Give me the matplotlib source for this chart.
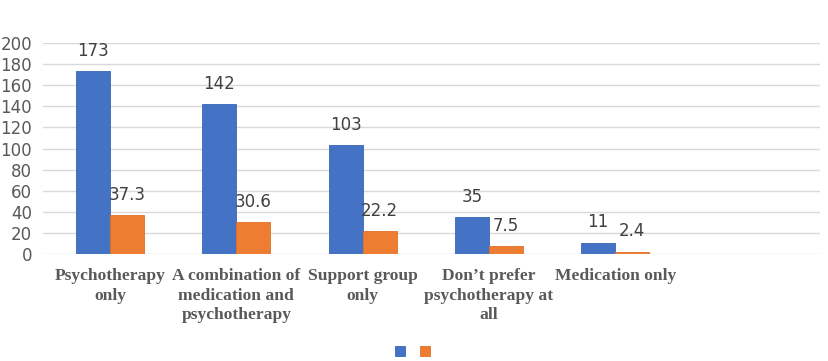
import matplotlib.pyplot as plt
import numpy as np

categories = ["Psychotherapy\nonly",
              "A combination of\nmedication and\npsychotherapy",
              "Support group\nonly",
              "Don\u2019t prefer\npsychotherapy at\nall",
              "Medication only"]
counts = [173, 142, 103, 35, 11]
percents = [37.3, 30.6, 22.2, 7.5, 2.4]

blue = "#4472C4"
orange = "#ED7D31"

fig = plt.figure(figsize=(8.29, 3.61), dpi=100)
ax = fig.add_axes([0.052, 0.296, 0.937, 0.585])

x = np.arange(len(categories))
w = 0.27
b1 = ax.bar(x - w / 2, counts, w, color=blue, edgecolor="#3A66B8", linewidth=0.6)
b2 = ax.bar(x + w / 2, percents, w, color=orange, edgecolor="#E0702A", linewidth=0.6)

for bars, vals in ((b1, counts), (b2, percents)):
    for r, v in zip(bars, vals):
        ax.annotate(str(v), (r.get_x() + r.get_width() / 2, r.get_height()),
                    xytext=(0, 8), textcoords="offset points",
                    ha="center", va="bottom", fontsize=12, color="#404040")

ax.set_ylim(0, 200)
ax.set_yticks(range(0, 201, 20))
ax.set_xlim(-0.53, 5.62)
ax.set_xticks(x)
ax.set_xticklabels(categories, family="Liberation Serif", fontweight="bold",
                   fontsize=12.6, color="#595959", linespacing=1.3)
ax.tick_params(axis="x", length=0, pad=10)
ax.tick_params(axis="y", length=0, labelsize=12, labelcolor="#595959", pad=8)
ax.grid(axis="y", color="#D9D9D9", linewidth=1)
ax.set_axisbelow(True)
for s in ax.spines.values():
    s.set_visible(False)

fig.legend([b1, b2], [" ", " "], loc="center", bbox_to_anchor=(0.502, 0.026),
           ncol=2, frameon=False, handlelength=0.7, handleheight=0.7,
           handletextpad=0.2, columnspacing=0.6, fontsize=10)

fig.savefig("out.png", dpi=100)
